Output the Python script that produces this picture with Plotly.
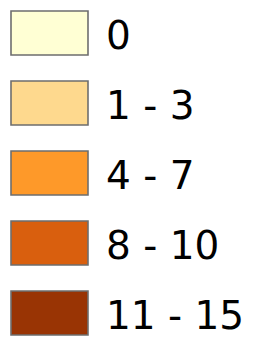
import plotly.graph_objects as go

labels = ["0", "1 - 3", "4 - 7", "8 - 10", "11 - 15"]
colors = ["#ffffd4", "#fed98e", "#fe9929", "#d95f0e", "#993404"]

W, H = 257, 338
box_x0, box_w, box_h = 11, 77, 44
top0, pitch = 11, 70
text_x = 105

fig = go.Figure()
shapes = []
annotations = []
for i, (lab, col) in enumerate(zip(labels, colors)):
    y0 = top0 + pitch * i
    shapes.append(dict(type="rect", xref="x", yref="y",
                       x0=box_x0, x1=box_x0 + box_w, y0=y0, y1=y0 + box_h,
                       fillcolor=col, line=dict(color="#6e6e6e", width=1.6)))
    annotations.append(dict(x=text_x, y=y0 + box_h / 2 + 2, xref="x", yref="y",
                            text=lab, showarrow=False, xanchor="left", yanchor="middle",
                            borderpad=0,
                            font=dict(family="DejaVu Sans", size=39, color="#000000")))

fig.add_trace(go.Scatter(x=[0], y=[0], mode="markers", marker=dict(opacity=0), hoverinfo="skip", showlegend=False))
fig.update_layout(width=W, height=H, margin=dict(l=0, r=0, t=0, b=0),
                  paper_bgcolor="white", plot_bgcolor="white",
                  shapes=shapes, annotations=annotations, showlegend=False,
                  xaxis=dict(range=[0, W], visible=False, fixedrange=True),
                  yaxis=dict(range=[H, 0], visible=False, fixedrange=True))
fig.write_html("out.html", config={"displayModeBar": False},
               post_script="document.body.style.margin='0';document.body.style.padding='0';document.body.style.overflow='hidden';")
